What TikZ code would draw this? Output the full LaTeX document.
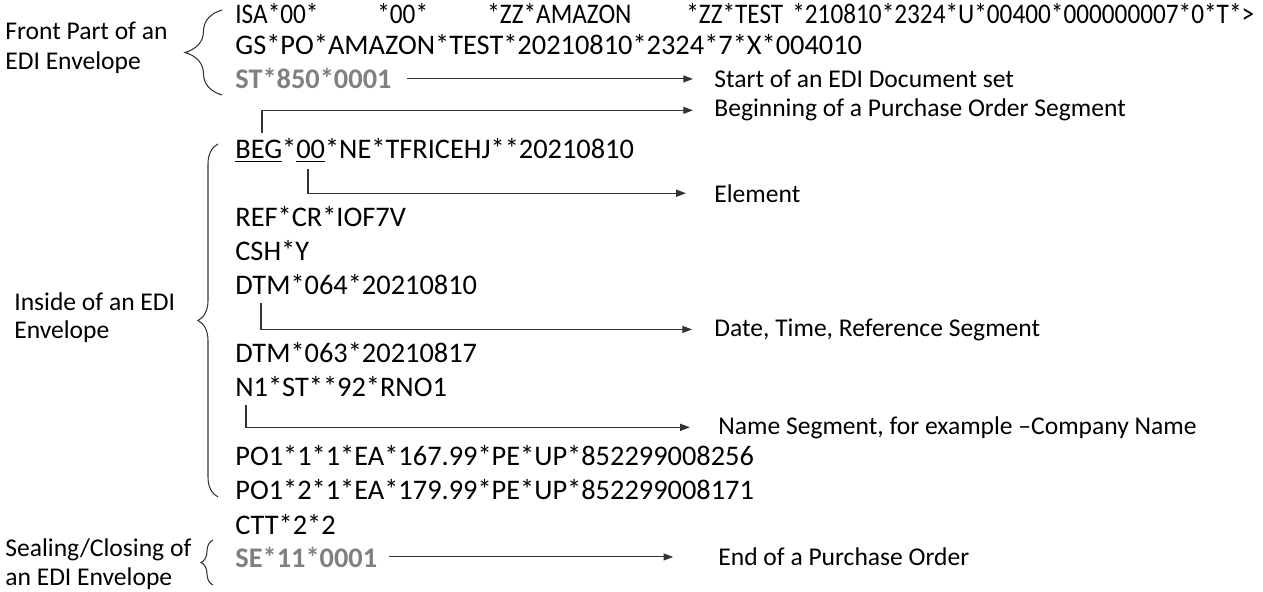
\documentclass[tikz,border=0pt]{standalone}
\usepackage{fontspec}
\setmainfont{Carlito}
\usetikzlibrary{arrows.meta,decorations.pathreplacing}

\newcommand{\squeeze}[1]{\scalebox{0.89}[1]{#1}}

\tikzstyle{code} = [anchor=base west, inner sep=0pt, font=\fontsize{16.15}{19}\selectfont]
\tikzstyle{seal} = [code, text=gray, font=\fontsize{16.15}{19}\selectfont\bfseries]
\tikzstyle{lbl} = [anchor=base west, inner sep=0pt, font=\fontsize{14.55}{17}\selectfont]
\tikzstyle{arw} = [-{Triangle[length=5.5pt,width=4pt]}, line width=0.6pt, black!80]
\tikzstyle{brc} = [decorate, line width=0.6pt, black!80]

\begin{document}
\begin{tikzpicture}[x=0.02cm, y=-0.02cm]

\useasboundingbox (0,0) rectangle (1263,591);

% envelope front
\node[code] (isa) at (235,24) {\squeeze{ISA*00*}};
\node[code] (isab) at (377,24) {\squeeze{*00*}};
\node[code] (isac) at (487,24) {\squeeze{*ZZ*AMAZON}};
\node[code] (isad) at (686,24) {\squeeze{*ZZ*TEST}};
\node[code] (isae) at (792,24) {\squeeze{*210810*2324*U*00400*000000007*0*T*>}};
\node[code] (gs) at (235,55) {GS*PO*AMAZON*TEST*20210810*2324*7*X*004010};
\node[seal] (st) at (235,89) {ST*850*0001};

% inside of envelope
\node[code] (beg) at (235,159) {\underline{BEG}*\underline{00}*NE*TFRICEHJ**20210810};
\node[code] (ref) at (235,226) {REF*CR*IOF7V};
\node[code] (csh) at (235,260) {CSH*Y};
\node[code] (dtma) at (235,294) {DTM*064*20210810};
\node[code] (dtmb) at (235,362) {DTM*063*20210817};
\node[code] (nm) at (235,396) {N1*ST**92*RNO1};
\node[code] (poa) at (235,465) {PO1*1*1*EA*167.99*PE*UP*852299008256};
\node[code] (pob) at (235,499) {PO1*2*1*EA*179.99*PE*UP*852299008171};
\node[code] (ctt) at (235,534) {CTT*2*2};
\node[seal] (se) at (235,567) {SE*11*0001};

% left side
\node[lbl] (fronta) at (5,40) {Front Part of an};
\node[lbl] (frontb) at (5,70) {EDI Envelope};
\node[lbl] (insa) at (14,310) {Inside of an EDI};
\node[lbl] (insb) at (14,338) {Envelope};
\node[lbl] (seala) at (5,556) {Sealing/Closing of};
\node[lbl] (sealb) at (5,585) {an EDI Envelope};

% right side
\node[lbl] (stlbl) at (714,88) {Start of an EDI Document set};
\node[lbl] (beglbl) at (714,117) {Beginning of a Purchase Order Segment};
\node[lbl] (ellbl) at (714,202) {Element};
\node[lbl] (dtmlbl) at (714,336) {Date, Time, Reference Segment};
\node[lbl] (nmlbl) at (718,434) {Name Segment, for example --Company Name};
\node[lbl] (selbl) at (718,565) {End of a Purchase Order};

\coordinate (begtick) at (262,133);
\coordinate (eltick) at (308,169);
\coordinate (dtmtick) at (261,303);
\coordinate (nmtick) at (246,405);

\draw[arw, shorten <=8.5pt, shorten >=12pt] (st.east) -- (st.east -| stlbl.west);
\draw[arw, shorten >=12pt] (begtick) |- (beglbl.west);
\draw[arw, shorten >=16pt] (eltick) |- (ellbl.west);
\draw[arw, shorten >=12.5pt] (dtmtick) |- (dtmlbl.west);
\draw[arw, shorten >=16pt] (nmtick) |- (nmlbl.west);
\draw[arw, shorten <=6.8pt, shorten >=25.5pt] (se.east) -- (se.east -| selbl.west);

% braces
\coordinate (fronttop) at (222,10);
\coordinate (frontbot) at (222,95);
\coordinate (instop) at (218,144);
\coordinate (insbot) at (218,497);
\coordinate (sealtop) at (213,540);
\coordinate (sealbot) at (213,585);

\draw[brc, decoration={brace, amplitude=0.74cm}] (frontbot) -- (fronttop);
\draw[brc, decoration={brace, amplitude=0.4cm}] (insbot) -- (instop);
\draw[brc, decoration={brace, amplitude=0.24cm}] (sealbot) -- (sealtop);

\end{tikzpicture}
\end{document}
